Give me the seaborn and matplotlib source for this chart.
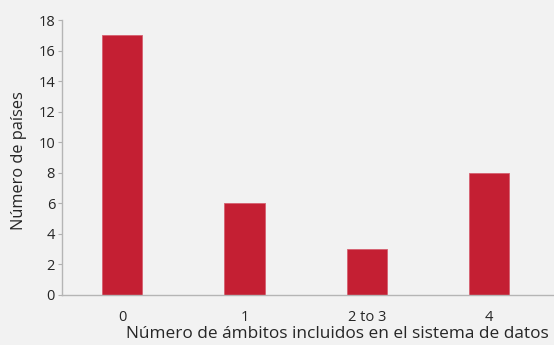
import matplotlib
matplotlib.use("Agg")
import matplotlib.pyplot as plt
import seaborn as sns
import pandas as pd

categories = ["0", "1", "2 to 3", "4"]
values = [17, 6, 3, 8]
y_ticks = [0, 2, 4, 6, 8, 10, 12, 14, 16, 18]

sns.set_style("white")
plt.rcParams['font.family'] = ['Open Sans', 'DejaVu Sans']

bg = "#f2f2f2"
fig = plt.figure(figsize=(5.54, 3.45), dpi=100, facecolor=bg)
ax = fig.add_axes([0.112, 0.145, 0.888, 0.797])
ax.set_facecolor(bg)

df = pd.DataFrame({"cat": categories, "val": values})
sns.barplot(data=df, x="cat", y="val", color="#c41f33", saturation=1, width=0.33, ax=ax,
            edgecolor="#d66070", linewidth=0.6)

ax.set_ylim(0, 18)
ax.set_xlim(-0.49, 3.53)
ax.set_yticks(y_ticks)
ax.set_yticklabels([str(t) for t in y_ticks], fontsize=10.5)
ax.tick_params(axis='y', length=3, width=0.8, color="#b0b0b0", pad=2, left=True)
ax.tick_params(axis='x', length=0, pad=11, labelsize=10.5)
for s in ["top", "right"]:
    ax.spines[s].set_visible(False)
for s in ["left", "bottom"]:
    ax.spines[s].set_color("#b5b5b5")
    ax.spines[s].set_linewidth(1.0)
ax.set_xlabel("Número de ámbitos incluidos en el sistema de datos", fontsize=12.4)
ax.set_ylabel("Número de países", fontsize=11.8)
ax.xaxis.set_label_coords(0.56, -0.114)
ax.yaxis.set_label_coords(-0.071, 0.49)

fig.savefig("out.png", dpi=100, facecolor=bg)
